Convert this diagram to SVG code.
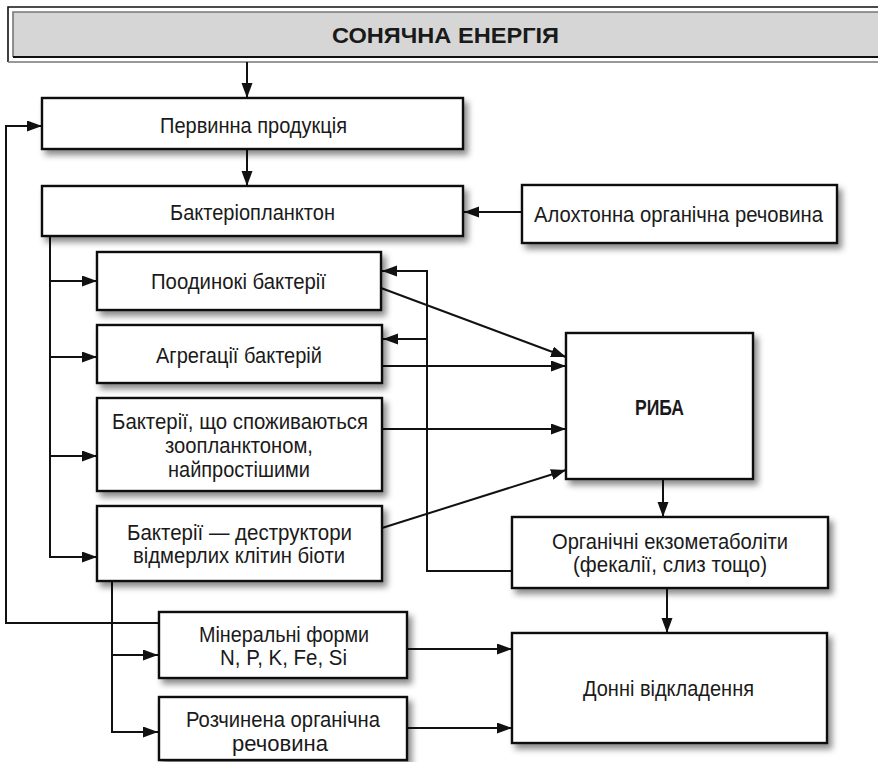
<svg xmlns="http://www.w3.org/2000/svg" width="878" height="762" viewBox="0 0 878 762">
<style>
.box{fill:#fff;stroke:#111;stroke-width:2.4;filter:url(#sh)}
.t{font-family:"Liberation Sans",Arial,sans-serif;font-size:22px;fill:#1a1a1a;text-anchor:middle}
.b{font-weight:bold}
.c{fill:none;stroke:#111;stroke-width:2}
.a{marker-end:url(#ar)}
</style>
<defs>
<filter id="sh" x="-10%" y="-10%" width="125%" height="135%">
<feDropShadow dx="4" dy="5" stdDeviation="3" flood-color="#000" flood-opacity="0.45"/>
</filter>
<marker id="ar" markerUnits="userSpaceOnUse" markerWidth="16" markerHeight="12" refX="15" refY="5.5" orient="auto">
<path d="M0,0 L15,5.5 L0,11 z" fill="#111"/>
</marker>
</defs>

<g id="title">
<rect x="8" y="7" width="880" height="55" fill="#fff" stroke="none"/>
<rect x="13" y="12" width="870" height="45" fill="#d6d6d6"/>
<path d="M8,62 V7 H878" fill="none" stroke="#111" stroke-width="1.6"/>
<path d="M8,62 H878" fill="none" stroke="#777" stroke-width="1.6"/>
<path d="M13,57 V12 H878" fill="none" stroke="#777" stroke-width="1.6"/>
<path d="M13,57 H878" fill="none" stroke="#111" stroke-width="1.8"/>
<text class="t b" x="445.5" y="43" font-size="24" textLength="227" lengthAdjust="spacingAndGlyphs">СОНЯЧНА ЕНЕРГІЯ</text>
</g>

<g id="connectors">
<path class="c a" d="M247,62 V98"/>
<path class="c a" d="M247,149 V186"/>
<path class="c a" d="M522,212 H464"/>
<path class="c a" d="M50,236 V557 H97"/>
<path class="c a" d="M50,281 H97"/>
<path class="c a" d="M50,357 H97"/>
<path class="c a" d="M50,456 H97"/>
<path class="c a" d="M512,571 H427 V271 H382"/>
<path class="c a" d="M427,339 H383"/>
<path class="c a" d="M381,288 L566,357"/>
<path class="c a" d="M382,366 H566"/>
<path class="c a" d="M382,429 H566"/>
<path class="c a" d="M382,528 L566,470"/>
<path class="c a" d="M663,479 V517"/>
<path class="c a" d="M667,588 V633"/>
<path class="c a" d="M112,581 V732 H158"/>
<path class="c a" d="M112,655 H158"/>
<path class="c a" d="M158,623 H6 V126 H42"/>
<path class="c a" d="M407,649 H512"/>
<path class="c a" d="M407,728 H512"/>
</g>

<g id="primary">
<rect class="box" x="42" y="98" width="421" height="51"/>
<text class="t" x="253.5" y="133" textLength="187" lengthAdjust="spacingAndGlyphs">Первинна продукція</text>
</g>
<g id="bacterioplankton">
<rect class="box" x="42" y="186" width="421" height="50"/>
<text class="t" x="252.5" y="220" textLength="165" lengthAdjust="spacingAndGlyphs">Бактеріопланктон</text>
</g>
<g id="allochthonous">
<rect class="box" x="522" y="185" width="315" height="58"/>
<text class="t" x="678.5" y="222" textLength="289" lengthAdjust="spacingAndGlyphs">Алохтонна органічна речовина</text>
</g>
<g id="single">
<rect class="box" x="97" y="252" width="284" height="58"/>
<text class="t" x="238.5" y="289" textLength="175" lengthAdjust="spacingAndGlyphs">Поодинокі бактерії</text>
</g>
<g id="aggregates">
<rect class="box" x="97" y="325" width="285" height="58"/>
<text class="t" x="239" y="363" textLength="166" lengthAdjust="spacingAndGlyphs">Агрегації бактерій</text>
</g>
<g id="consumed">
<rect class="box" x="97" y="398" width="285" height="93"/>
<text class="t" x="240" y="429" textLength="256" lengthAdjust="spacingAndGlyphs">Бактерії, що споживаються</text>
<text class="t" x="239" y="453" textLength="148" lengthAdjust="spacingAndGlyphs">зоопланктоном,</text>
<text class="t" x="239" y="477" textLength="142" lengthAdjust="spacingAndGlyphs">найпростішими</text>
</g>
<g id="destructors">
<rect class="box" x="97" y="506" width="285" height="75"/>
<text class="t" x="239.5" y="540" textLength="225" lengthAdjust="spacingAndGlyphs">Бактерії — деструктори</text>
<text class="t" x="239" y="563" textLength="212" lengthAdjust="spacingAndGlyphs">відмерлих клітин біоти</text>
</g>
<g id="fish">
<rect class="box" x="566" y="333" width="187" height="146"/>
<text class="t b" x="659.5" y="415" font-size="21" textLength="49" lengthAdjust="spacingAndGlyphs">РИБА</text>
</g>
<g id="exometabolites">
<rect class="box" x="512" y="517" width="316" height="71"/>
<text class="t" x="670" y="549" textLength="236" lengthAdjust="spacingAndGlyphs">Органічні екзометаболіти</text>
<text class="t" x="670" y="572" textLength="194" lengthAdjust="spacingAndGlyphs">(фекалії, слиз тощо)</text>
</g>
<g id="sediments">
<rect class="box" x="512" y="633" width="315" height="110"/>
<text class="t" x="668.5" y="696" textLength="171" lengthAdjust="spacingAndGlyphs">Донні відкладення</text>
</g>
<g id="mineral">
<rect class="box" x="159" y="612" width="248" height="66"/>
<text class="t" x="284" y="642" textLength="170" lengthAdjust="spacingAndGlyphs">Мінеральні форми</text>
<text class="t" x="283.5" y="665" textLength="127" lengthAdjust="spacingAndGlyphs">N, P, K, Fe, Si</text>
</g>
<g id="dissolved">
<rect class="box" x="159" y="697" width="248" height="63"/>
<text class="t" x="283" y="727" textLength="194" lengthAdjust="spacingAndGlyphs">Розчинена органічна</text>
<text class="t" x="280" y="751" textLength="96" lengthAdjust="spacingAndGlyphs">речовина</text>
</g>
</svg>
